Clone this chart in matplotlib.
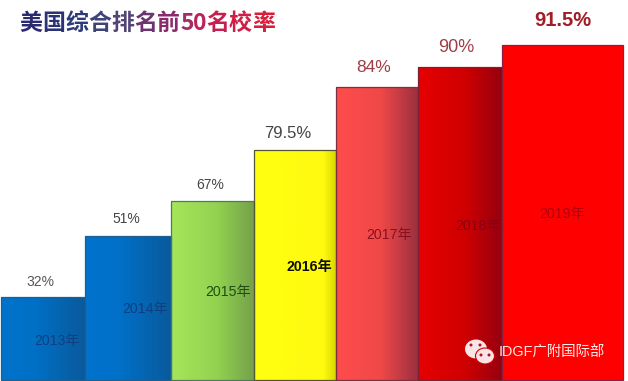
import matplotlib
matplotlib.use("Agg")
import matplotlib.pyplot as plt
import numpy as np
from matplotlib.colors import LinearSegmentedColormap, to_rgb
from matplotlib.patches import Ellipse

W, H = 628, 381
FONT = ['Liberation Sans', 'Noto Sans CJK SC']

# ---- data ----
years = ['2013年', '2014年', '2015年', '2016年', '2017年', '2018年', '2019年']
pct_labels = ['32%', '51%', '67%', '79.5%', '84%', '90%', '91.5%']
# drawn heights (the bars are not to scale with the labels)
bar_heights = [83, 144, 179, 230, 293, 313, 335]
bar_widths = [84, 85.5, 83.5, 82, 82, 84, 121]

# ---- style ----
grads = [
    ['#0073CC', '#0070C6', '#0A5A9C'],
    ['#0073CE', '#0070C8', '#0A5A9C'],
    ['#A6E65A', '#92D250', '#74A04A'],
    ['#FFFF10', '#FFFA10', '#D8D800'],
    ['#FF4C4C', '#F04848', '#9C3040'],
    ['#E60000', '#D00000', '#960010'],
    ['#FF0000', '#FF0000', '#FF0000'],
]
edges = ['#1F5F8F', '#1F5F8F', '#4F7A5A', '#555533', '#7A3040', '#7A2030', '#8A2040']
stops = [
    [0, .4, 1], [0, .4, 1], [0, .55, 1], [0, .85, 1], [0, .55, 1], [0, .55, 1], [0, .5, 1]
]
year_colors = ['#0F3F80', '#0F3F80', '#1F4F10', '#111100', '#8A1020', '#8A0010', '#B00010']
pct_colors = ['#555555', '#444444', '#444444', '#444444', '#A03C46', '#A03C46', '#A01E28']
pct_sizes = [10, 10, 10, 12, 12.5, 13, 14.5]
year_sizes = [10.2, 10.2, 10.2, 10.2, 10.2, 10.2, 10.2]
year_off = [(14, 39), (17, 71), (16, 88), (14, 113), (12, 145), (18, 154), (0, 166)]
pct_off = [(-3, 15), (-1, 17), (-2, 16), (-7, 16), (-3, 19), (-4, 19), (0, 24)]

fig = plt.figure(figsize=(W / 100, H / 100), dpi=100, facecolor='white')
ax = fig.add_axes([0, 0, 1, 1])
ax.axis('off')

left = 1.0
for i, (h, w) in enumerate(zip(bar_heights, bar_widths)):
    bar = ax.bar(left, h, width=w, bottom=1, align='edge', facecolor='none',
                 edgecolor=edges[i], linewidth=0.9, zorder=3)[0]
    cmap = LinearSegmentedColormap.from_list(
        f'g{i}', list(zip(stops[i], [to_rgb(c) for c in grads[i]])))
    ax.imshow(np.linspace(0, 1, 128)[None, :], cmap=cmap, aspect='auto',
              extent=(left, left + w, 1, 1 + h), zorder=2, interpolation='bilinear')
    cx = left + w / 2
    dx, dy = pct_off[i]
    ax.text(cx + dx, 1 + h + dy, pct_labels[i], ha='center', va='center',
            family=FONT, fontsize=pct_sizes[i], color=pct_colors[i],
            fontweight='bold' if i == 6 else 'normal', zorder=5)
    dx, dy = year_off[i]
    ax.text(cx + dx, 1 + dy, years[i], ha='center', va='center',
            family=FONT, fontsize=year_sizes[i], color=year_colors[i],
            fontweight='bold' if i == 3 else 'normal', zorder=5)
    left += w
ax.set_xlim(0, W)
ax.set_ylim(0, H)

# ---- title with a colour run from navy to red ----
title = '美国综合排名前50名校率'
title_cmap = LinearSegmentedColormap.from_list(
    't', ['#2A2A70', '#2C3A78', '#4A4A78', '#7A2A70', '#B02A60', '#C81E50', '#D81E3C'])
x = 19.0
for i, ch in enumerate(title):
    fig.text(x / W, 1 - 23 / H, ch, family='Noto Sans CJK SC', fontweight='bold',
             fontsize=16.5, va='center', ha='left',
             color=title_cmap(i / (len(title) - 1)))
    x += 23.0 if ord(ch) > 255 else 13.0

# ---- watermark ----
wm = dict(facecolor='#FBE4E6', edgecolor='none', zorder=6)
ax.add_patch(Ellipse((476, H - 349), 22, 19, **wm))
ax.add_patch(Ellipse((485, H - 356), 19, 16, facecolor='#FBE4E6', edgecolor='#D00000',
                     linewidth=0.8, zorder=7))
for ex, ey in [(471, 345), (480, 345), (481, 355), (489, 355)]:
    ax.add_patch(Ellipse((ex, H - ey), 3, 3, facecolor='#B01020', edgecolor='none', zorder=8))
ax.text(499, H - 353, 'IDGF广附国际部', family=FONT, fontsize=10.4, color='#FBEAEA',
        ha='left', va='center', zorder=8)

fig.savefig('out.png', dpi=100, facecolor='white')
